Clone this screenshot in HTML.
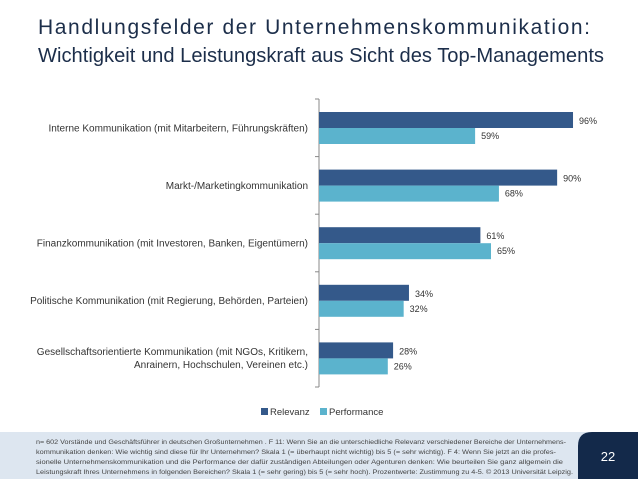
<!DOCTYPE html>
<html><head><meta charset="utf-8"><style>
html,body{margin:0;padding:0;background:#fff;}
svg{display:block;font-family:"Liberation Sans",sans-serif;}
</style></head><body>
<svg id="chart" width="638" height="479" viewBox="0 0 638 479">
<text x="38" y="34" font-size="21" fill="#1c2e4a" textLength="552" lengthAdjust="spacing">Handlungsfelder der Unternehmenskommunikation:</text>
<text x="38" y="62" font-size="20" fill="#1c2e4a" textLength="566" lengthAdjust="spacingAndGlyphs">Wichtigkeit und Leistungskraft aus Sicht des Top-Managements</text>
<g id="plot"></g>
<g>
<rect x="261" y="408" width="7" height="7" fill="#34598a"/>
<text x="270" y="415" font-size="9.5" fill="#333">Relevanz</text>
<rect x="320" y="408" width="7" height="7" fill="#5bb3cd"/>
<text x="329" y="415" font-size="9.5" fill="#333">Performance</text>
</g>
<rect x="0" y="432" width="638" height="47" fill="#dde6f0"/>
<path d="M578 479 V446 Q578 432 592 432 H638 V479 Z" fill="#13294a"/>
<text x="608" y="461" font-size="13" fill="#fff" text-anchor="middle">22</text>
<g font-size="6.3" fill="#444">
<text x="36" y="444" textLength="530" lengthAdjust="spacingAndGlyphs">n= 602 Vorstände und Geschäftsführer in deutschen Großunternehmen . F 11: Wenn Sie an die unterschiedliche Relevanz verschiedener Bereiche der Unternehmens-</text>
<text x="36" y="454" textLength="520" lengthAdjust="spacingAndGlyphs">kommunikation denken: Wie wichtig sind diese für Ihr Unternehmen? Skala 1 (= überhaupt nicht wichtig) bis 5 (= sehr wichtig). F 4: Wenn Sie jetzt an die profes-</text>
<text x="36" y="464" textLength="527" lengthAdjust="spacingAndGlyphs">sionelle Unternehmenskommunikation und die Performance der dafür zuständigen Abteilungen oder Agenturen denken: Wie beurteilen Sie ganz allgemein die</text>
<text x="36" y="474" textLength="537" lengthAdjust="spacingAndGlyphs">Leistungskraft Ihres Unternehmens in folgenden Bereichen? Skala 1 (= sehr gering) bis 5 (= sehr hoch). Prozentwerte: Zustimmung zu 4-5. © 2013 Universität Leipzig.</text>
</g>
</svg>
<script>
const categories = [
  ["Interne Kommunikation (mit Mitarbeitern, Führungskräften)"],
  ["Markt-/Marketingkommunikation"],
  ["Finanzkommunikation (mit Investoren, Banken, Eigentümern)"],
  ["Politische Kommunikation (mit Regierung, Behörden, Parteien)"],
  ["Gesellschaftsorientierte Kommunikation (mit NGOs, Kritikern,", "Anrainern, Hochschulen, Vereinen etc.)"]
];
const relevanz = [96, 90, 61, 34, 28];
const performance = [59, 68, 65, 32, 26];

const NS = "http://www.w3.org/2000/svg";
const plot = document.getElementById("plot");
const x0 = 319, xScale = 2.646, yTop = 99, band = 57.6, barH = 16;
const xPos = v => x0 + v * xScale;
const yBand = i => yTop + i * band;
function mk(tag, attrs) {
  const e = document.createElementNS(NS, tag);
  for (const k in attrs) e.setAttribute(k, attrs[k]);
  plot.appendChild(e);
  return e;
}
const axis = mk("line", {x1: x0, y1: yTop, x2: x0, y2: yBand(categories.length), stroke: "#888", "stroke-width": 1});


for (let i = 0; i <= categories.length; i++) {
  const t = mk("line", {x1: x0 - 4, y1: yBand(i), x2: x0, y2: yBand(i), stroke: "#888", "stroke-width": 1});
  
  
}
categories.forEach((lines, i) => {
  const yb = yBand(i) + 13;
  const r = mk("rect", {x: x0, y: yb, width: relevanz[i] * xScale, height: barH, fill: "#34598a"});
  
  
  const p = mk("rect", {x: x0, y: yb + barH, width: performance[i] * xScale, height: barH, fill: "#5bb3cd"});
  
  
  const l1 = mk("text", {x: xPos(relevanz[i]) + 6, y: yb + 12, "font-size": 9, fill: "#333"});
  l1.textContent = relevanz[i] + "%";
  
  
  const l2 = mk("text", {x: xPos(performance[i]) + 6, y: yb + barH + 11, "font-size": 9, fill: "#333"});
  l2.textContent = performance[i] + "%";
  
  
  const cy = yBand(i) + band / 2;
  lines.forEach((s, j) => {
    const t = mk("text", {x: 308, y: cy + 3.5 + (j - (lines.length - 1) / 2) * 13, "font-size": 10, fill: "#333", "text-anchor": "end"});
    t.textContent = s;
    
    
  });
});
</script>
</body></html>
